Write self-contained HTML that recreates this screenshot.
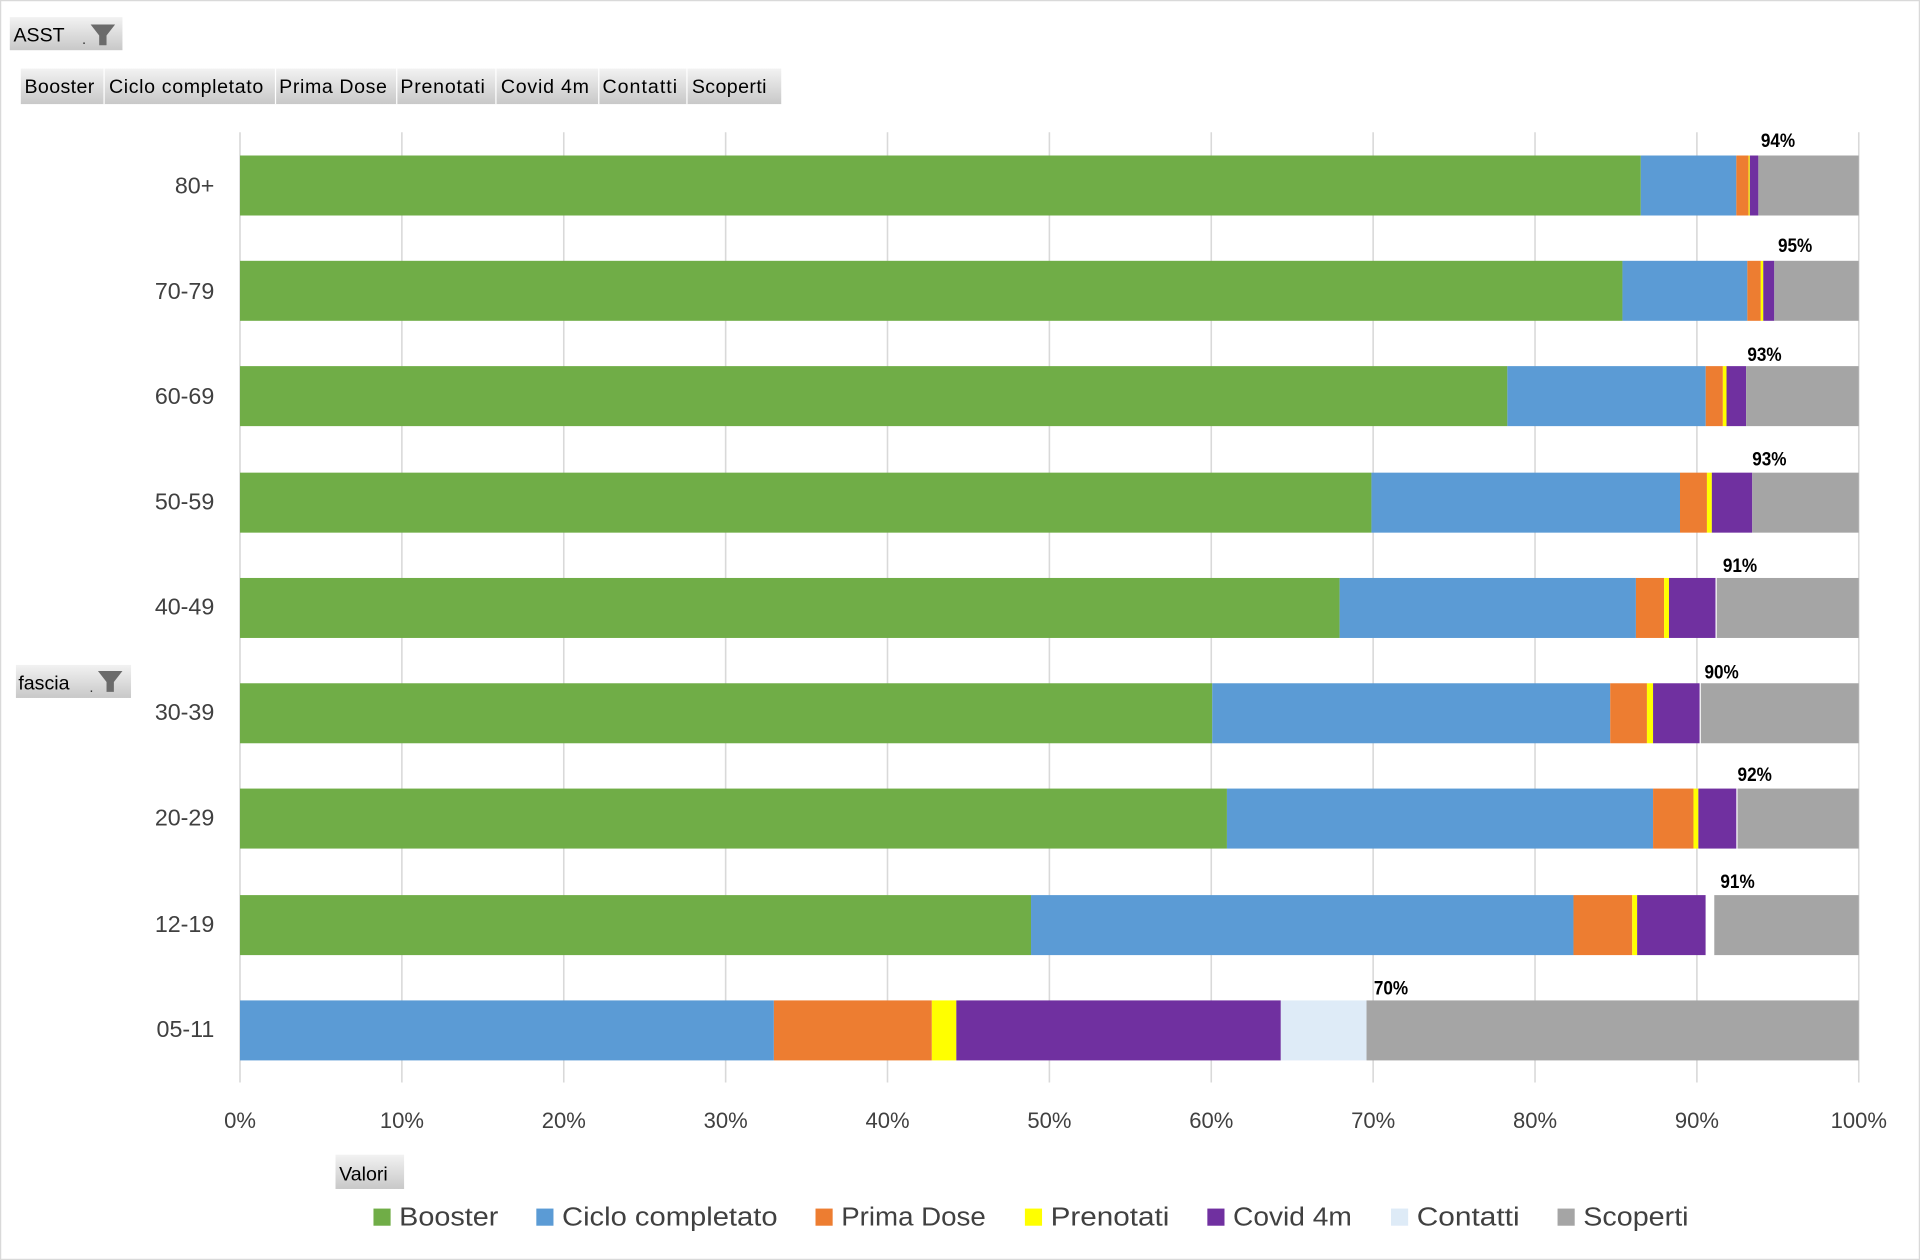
<!DOCTYPE html>
<html><head><meta charset="utf-8"><style>
html,body{margin:0;padding:0;background:#fff}
svg{display:block}
text{font-family:"Liberation Sans",sans-serif}
</style></head><body>
<svg width="1920" height="1260" viewBox="0 0 1568 1029" preserveAspectRatio="none" xmlns="http://www.w3.org/2000/svg">
<defs>
<linearGradient id="btn" x1="0" y1="0" x2="0" y2="1"><stop offset="0" stop-color="#f2f2f2"/><stop offset="1" stop-color="#c8c8c8"/></linearGradient>
</defs>
<rect x="0.5" y="0.5" width="1567" height="1028" fill="#fff" stroke="#d9d9d9"/>
<rect x="8" y="14" width="92" height="27" fill="url(#btn)"/>
<text x="11" y="34" font-size="16" fill="#000">ASST</text>
<text x="67" y="36" font-size="12" fill="#333">.</text>
<path d="M74 20h20l-7 9v8h-6v-8z" fill="#6b6b6b"/>
<rect x="17" y="56" width="621" height="29" fill="url(#btn)"/>
<g stroke="#fff" stroke-width="1"><line x1="85" y1="56" x2="85" y2="85"/><line x1="225" y1="56" x2="225" y2="85"/><line x1="324" y1="56" x2="324" y2="85"/><line x1="405" y1="56" x2="405" y2="85"/><line x1="489" y1="56" x2="489" y2="85"/><line x1="561" y1="56" x2="561" y2="85"/></g>
<g font-size="16" fill="#000" lengthAdjust="spacingAndGlyphs"><text x="20" y="76" textLength="57">Booster</text><text x="89" y="76" textLength="126">Ciclo completato</text><text x="228" y="76" textLength="88">Prima Dose</text><text x="327" y="76" textLength="69">Prenotati</text><text x="409" y="76" textLength="72">Covid 4m</text><text x="492" y="76" textLength="61">Contatti</text><text x="565" y="76" textLength="61">Scoperti</text></g>
<rect x="13" y="543" width="94" height="27" fill="url(#btn)"/>
<text x="15" y="563" font-size="16" fill="#000">fascia</text>
<text x="73" y="565" font-size="12" fill="#333">.</text>
<path d="M80 548h20l-7 9v8h-6v-8z" fill="#6b6b6b"/>
<g stroke="#d9d9d9" stroke-width="1.3">
<line x1="196" y1="108" x2="196" y2="884"/><line x1="328.2" y1="108" x2="328.2" y2="884"/><line x1="460.4" y1="108" x2="460.4" y2="884"/><line x1="592.6" y1="108" x2="592.6" y2="884"/><line x1="724.8" y1="108" x2="724.8" y2="884"/><line x1="857" y1="108" x2="857" y2="884"/><line x1="989.2" y1="108" x2="989.2" y2="884"/><line x1="1121.4" y1="108" x2="1121.4" y2="884"/><line x1="1253.6" y1="108" x2="1253.6" y2="884"/><line x1="1385.8" y1="108" x2="1385.8" y2="884"/><line x1="1518" y1="108" x2="1518" y2="884"/>
</g>
<g>
<rect x="196" y="127" width="1144" height="49" fill="#70AD47"/><rect x="1340" y="127" width="78" height="49" fill="#5B9BD5"/><rect x="1418" y="127" width="10" height="49" fill="#ED7D31"/><rect x="1428" y="127" width="1" height="49" fill="#FFFF00"/><rect x="1429" y="127" width="7" height="49" fill="#7030A0"/><rect x="1436" y="127" width="82" height="49" fill="#A5A5A5"/>
<rect x="196" y="213" width="1129" height="49" fill="#70AD47"/><rect x="1325" y="213" width="102" height="49" fill="#5B9BD5"/><rect x="1427" y="213" width="11" height="49" fill="#ED7D31"/><rect x="1438" y="213" width="2" height="49" fill="#FFFF00"/><rect x="1440" y="213" width="9" height="49" fill="#7030A0"/><rect x="1449" y="213" width="69" height="49" fill="#A5A5A5"/>
<rect x="196" y="299" width="1035" height="49" fill="#70AD47"/><rect x="1231" y="299" width="162" height="49" fill="#5B9BD5"/><rect x="1393" y="299" width="14" height="49" fill="#ED7D31"/><rect x="1407" y="299" width="3" height="49" fill="#FFFF00"/><rect x="1410" y="299" width="16" height="49" fill="#7030A0"/><rect x="1426" y="299" width="92" height="49" fill="#A5A5A5"/>
<rect x="196" y="386" width="924" height="49" fill="#70AD47"/><rect x="1120" y="386" width="252" height="49" fill="#5B9BD5"/><rect x="1372" y="386" width="22" height="49" fill="#ED7D31"/><rect x="1394" y="386" width="4" height="49" fill="#FFFF00"/><rect x="1398" y="386" width="33" height="49" fill="#7030A0"/><rect x="1431" y="386" width="87" height="49" fill="#A5A5A5"/>
<rect x="196" y="472" width="898" height="49" fill="#70AD47"/><rect x="1094" y="472" width="242" height="49" fill="#5B9BD5"/><rect x="1336" y="472" width="23" height="49" fill="#ED7D31"/><rect x="1359" y="472" width="4" height="49" fill="#FFFF00"/><rect x="1363" y="472" width="38" height="49" fill="#7030A0"/><rect x="1402" y="472" width="116" height="49" fill="#A5A5A5"/>
<rect x="196" y="558" width="794" height="49" fill="#70AD47"/><rect x="990" y="558" width="325" height="49" fill="#5B9BD5"/><rect x="1315" y="558" width="30" height="49" fill="#ED7D31"/><rect x="1345" y="558" width="5" height="49" fill="#FFFF00"/><rect x="1350" y="558" width="38" height="49" fill="#7030A0"/><rect x="1389" y="558" width="129" height="49" fill="#A5A5A5"/>
<rect x="196" y="644" width="806" height="49" fill="#70AD47"/><rect x="1002" y="644" width="348" height="49" fill="#5B9BD5"/><rect x="1350" y="644" width="33" height="49" fill="#ED7D31"/><rect x="1383" y="644" width="4" height="49" fill="#FFFF00"/><rect x="1387" y="644" width="31" height="49" fill="#7030A0"/><rect x="1419" y="644" width="99" height="49" fill="#A5A5A5"/>
<rect x="196" y="731" width="646" height="49" fill="#70AD47"/><rect x="842" y="731" width="443" height="49" fill="#5B9BD5"/><rect x="1285" y="731" width="48" height="49" fill="#ED7D31"/><rect x="1333" y="731" width="4" height="49" fill="#FFFF00"/><rect x="1337" y="731" width="56" height="49" fill="#7030A0"/><rect x="1393" y="731" width="7" height="49" fill="#fff"/><rect x="1400" y="731" width="118" height="49" fill="#A5A5A5"/>
<rect x="196" y="817" width="436" height="49" fill="#5B9BD5"/><rect x="632" y="817" width="129" height="49" fill="#ED7D31"/><rect x="761" y="817" width="20" height="49" fill="#FFFF00"/><rect x="781" y="817" width="265" height="49" fill="#7030A0"/><rect x="1046" y="817" width="70" height="49" fill="#DEEBF7"/><rect x="1116" y="817" width="402" height="49" fill="#A5A5A5"/>
</g>
<g font-size="16" font-weight="bold" fill="#000" text-anchor="middle">
<text x="1452" y="120" textLength="28" lengthAdjust="spacingAndGlyphs">94%</text>
<text x="1466" y="206" textLength="28" lengthAdjust="spacingAndGlyphs">95%</text>
<text x="1441" y="295" textLength="28" lengthAdjust="spacingAndGlyphs">93%</text>
<text x="1445" y="380" textLength="28" lengthAdjust="spacingAndGlyphs">93%</text>
<text x="1421" y="467" textLength="28" lengthAdjust="spacingAndGlyphs">91%</text>
<text x="1406" y="554" textLength="28" lengthAdjust="spacingAndGlyphs">90%</text>
<text x="1433" y="638" textLength="28" lengthAdjust="spacingAndGlyphs">92%</text>
<text x="1419" y="725" textLength="28" lengthAdjust="spacingAndGlyphs">91%</text>
<text x="1136" y="812" textLength="28" lengthAdjust="spacingAndGlyphs">70%</text>
</g>
<g font-size="19" fill="#404040" text-anchor="end">
<text x="175" y="158">80+</text><text x="175" y="244">70-79</text><text x="175" y="330">60-69</text><text x="175" y="416">50-59</text><text x="175" y="502">40-49</text><text x="175" y="588">30-39</text><text x="175" y="674">20-29</text><text x="175" y="761">12-19</text><text x="175" y="847">05-11</text>
</g>
<g font-size="18" fill="#404040" text-anchor="middle">
<text x="196" y="921">0%</text><text x="328.2" y="921">10%</text><text x="460.4" y="921">20%</text><text x="592.6" y="921">30%</text><text x="724.8" y="921">40%</text><text x="857" y="921">50%</text><text x="989.2" y="921">60%</text><text x="1121.4" y="921">70%</text><text x="1253.6" y="921">80%</text><text x="1385.8" y="921">90%</text><text x="1518" y="921">100%</text>
</g>
<rect x="274" y="943" width="56" height="28" fill="url(#btn)"/>
<text x="277" y="964" font-size="16" fill="#000">Valori</text>
<g font-size="21" fill="#404040">
<rect x="305" y="987" width="14" height="14" fill="#70AD47"/><text x="326" y="1001" textLength="81" lengthAdjust="spacingAndGlyphs">Booster</text>
<rect x="438" y="987" width="14" height="14" fill="#5B9BD5"/><text x="459" y="1001" textLength="176" lengthAdjust="spacingAndGlyphs">Ciclo completato</text>
<rect x="666" y="987" width="14" height="14" fill="#ED7D31"/><text x="687" y="1001" textLength="118" lengthAdjust="spacingAndGlyphs">Prima Dose</text>
<rect x="837" y="987" width="14" height="14" fill="#FFFF00"/><text x="858" y="1001" textLength="97" lengthAdjust="spacingAndGlyphs">Prenotati</text>
<rect x="986" y="987" width="14" height="14" fill="#7030A0"/><text x="1007" y="1001" textLength="97" lengthAdjust="spacingAndGlyphs">Covid 4m</text>
<rect x="1136" y="987" width="14" height="14" fill="#DEEBF7"/><text x="1157" y="1001" textLength="84" lengthAdjust="spacingAndGlyphs">Contatti</text>
<rect x="1272" y="987" width="14" height="14" fill="#A5A5A5"/><text x="1293" y="1001" textLength="86" lengthAdjust="spacingAndGlyphs">Scoperti</text>
</g>
</svg>
</body></html>
